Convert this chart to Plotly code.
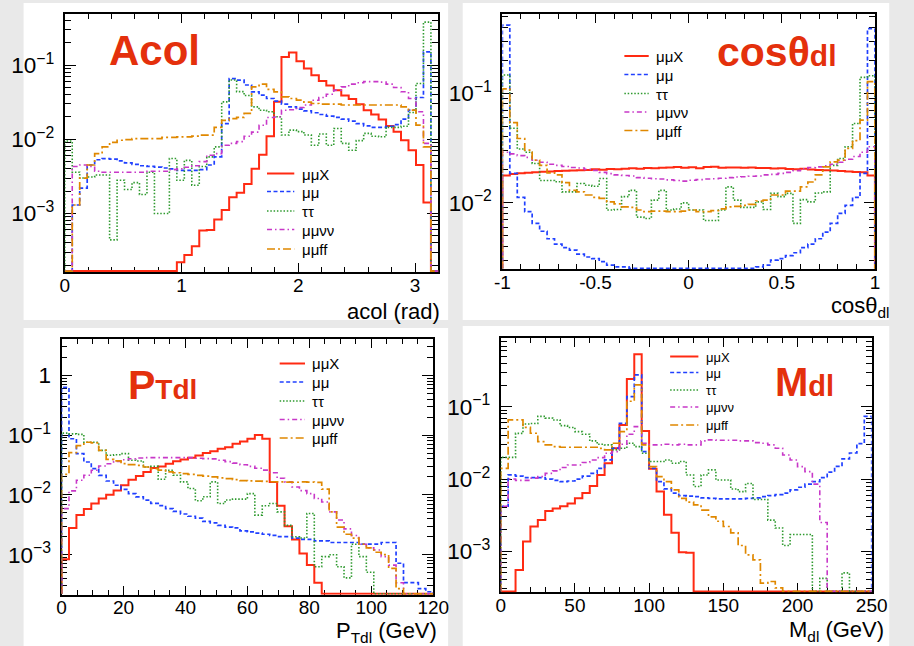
import numpy as np
import plotly.graph_objects as go

W, H = 914, 646

series_names = ["μμX", "μμ", "ττ", "μμνν", "μμff"]

# ---------------- Acol (50 bins, 0 .. 3.2 rad) ----------------
acol_mumuX = [0, 0, 0, 0, 0, 0, 0, 0, 0, 0, 0, 0, 0, 0, 0,
              2.2e-4, 2.76e-4, 3.6e-4, 5.9e-4, 6.0e-4, 8.3e-4, 1.11e-3, 1.65e-3, 1.9e-3, 2.5e-3,
              4.0e-3, 6.2e-3, 1.1e-2, 3.2e-2, 0.129, 0.148, 0.113, 0.090, 0.073, 0.061,
              0.053, 0.046, 0.039, 0.035, 0.0296, 0.0247, 0.0216, 0.0185, 0.0151, 0.0126,
              0.0097, 0.0071, 0.0045, 0.0014, 0]
acol_mumu = [0, 0.0013, 0.0022, 0.0045, 0.0053, 0.0055, 0.0054, 0.0051, 0.0048, 0.0046,
             0.0044, 0.0043, 0.0042, 0.0041, 0.0040, 0.0038, 0.0038, 0.0038, 0.0039, 0.0045,
             0.0058, 0.0163, 0.066, 0.063, 0.054, 0.0437, 0.0394, 0.0355, 0.0327, 0.0298,
             0.0274, 0.0255, 0.0242, 0.0228, 0.0216, 0.0205, 0.0197, 0.0187, 0.0176, 0.0163,
             0.0152, 0.0145, 0.0145, 0.0150, 0.0158, 0.0187, 0.0247, 0.0366, 0.151, 0]
acol_tautau = [0.0095, 0.0036, 0.0030, 0.0031, 0.0033, 0.0033, 0.00044, 0.0028, 0.0021, 0.0026,
               0.0018, 0.0036, 0.0010, 0.0010, 0.0055, 0.0028, 0.0052, 0.0024, 0.0043, 0.0058,
               0.0079, 0.032, 0.063, 0.044, 0.039, 0.0274, 0.0247, 0.0235, 0.0201, 0.0114,
               0.0133, 0.0127, 0.0114, 0.0083, 0.0118, 0.0083, 0.0140, 0.0088, 0.0071, 0.0096,
               0.0120, 0.0110, 0.0108, 0.0145, 0.0145, 0.0150, 0.023, 0.0566, 0.38, 0]
acol_mumununu = [0, 0.0043, 0.0045, 0.0043, 0.0037, 0.0036, 0.0036, 0.0036, 0.0036, 0.0036,
                 0.0036, 0.0037, 0.0037, 0.0037, 0.0039, 0.0040, 0.0042, 0.0044, 0.0050, 0.0061,
                 0.0064, 0.0083, 0.0088, 0.0093, 0.0110, 0.0125, 0.0155, 0.0197, 0.0200, 0.0247,
                 0.0250, 0.0268, 0.0290, 0.0337, 0.0366, 0.0406, 0.046, 0.051, 0.0555, 0.058,
                 0.060, 0.060, 0.059, 0.0555, 0.050, 0.0437, 0.0355, 0.0235, 0.0088, 0]
acol_mumuff = [0, 0.0013, 0.0030, 0.0045, 0.0064, 0.0079, 0.0091, 0.0097, 0.0099, 0.0102,
               0.0102, 0.0102, 0.0102, 0.0106, 0.0106, 0.0108, 0.0108, 0.0110, 0.0114, 0.0114,
               0.0145, 0.0180, 0.0190, 0.0197, 0.0223, 0.051, 0.0555, 0.047, 0.0437, 0.0374,
               0.0355, 0.0337, 0.0317, 0.0304, 0.0298, 0.0298, 0.0298, 0.029, 0.029, 0.029,
               0.029, 0.029, 0.029, 0.029, 0.029, 0.0274, 0.0247, 0.0155, 0.0079, 0]

# ---------------- cos(theta_dl) (50 bins, -1 .. 1) ----------------
cos_mumuX = [0.0178, 0.0183, 0.0186, 0.0188, 0.0190, 0.0192, 0.0193, 0.0195, 0.0196, 0.0197,
             0.0199, 0.0200, 0.0203, 0.0201, 0.0204, 0.0203, 0.0205, 0.0207, 0.0205, 0.0208,
             0.0207, 0.0209, 0.0210, 0.0212, 0.0209, 0.0211, 0.0207, 0.0212, 0.0214, 0.0209,
             0.0210, 0.0210, 0.0209, 0.0210, 0.0208, 0.0208, 0.0206, 0.0207, 0.0204, 0.0203,
             0.0205, 0.0202, 0.0200, 0.0199, 0.0197, 0.0195, 0.0193, 0.0191, 0.0190, 0.0178]
cos_mumu = [0.42, 0.0186, 0.0112, 0.0083, 0.0065, 0.0055, 0.0047, 0.0042, 0.0039, 0.0037,
            0.0034, 0.0032, 0.0031, 0.0029, 0.0027, 0.0026, 0.0026, 0.0024, 0.0024, 0.0024,
            0.0024, 0.0024, 0.0024, 0.0024, 0.0024, 0.0024, 0.0024, 0.0024, 0.0024, 0.0024,
            0.0024, 0.0024, 0.0024, 0.0024, 0.0026, 0.0027, 0.0030, 0.0031, 0.0033, 0.0035,
            0.0039, 0.0042, 0.0047, 0.0054, 0.0065, 0.0080, 0.0095, 0.0112, 0.0186, 0.39]
cos_tautau = [0.147, 0.048, 0.031, 0.029, 0.0229, 0.016, 0.016, 0.0156, 0.0126, 0.0126,
              0.0150, 0.0145, 0.0142, 0.0167, 0.0086, 0.0087, 0.0114, 0.0130, 0.0074, 0.0072,
              0.0106, 0.0130, 0.0086, 0.0088, 0.0100, 0.0086, 0.0086, 0.0069, 0.0069, 0.0086,
              0.0140, 0.0106, 0.0091, 0.0091, 0.0102, 0.0087, 0.0122, 0.0114, 0.0122, 0.0065,
              0.0107, 0.0102, 0.0123, 0.0126, 0.022, 0.0254, 0.0325, 0.053, 0.14, 0.145]
cos_mumununu = [0.029, 0.028, 0.027, 0.026, 0.0245, 0.0235, 0.0225, 0.022, 0.0215, 0.021,
                0.0208, 0.0202, 0.0198, 0.0190, 0.0185, 0.0180, 0.0178, 0.0176, 0.0170, 0.0168,
                0.0166, 0.0165, 0.0162, 0.0160, 0.0158, 0.0161, 0.0163, 0.0165, 0.0166, 0.0168,
                0.0170, 0.0172, 0.0173, 0.0175, 0.0176, 0.0180, 0.0182, 0.0186, 0.0190, 0.0197,
                0.0205, 0.0210, 0.0213, 0.0218, 0.0225, 0.0235, 0.0250, 0.0265, 0.0290, 0.0325]
cos_mumuff = [0.11, 0.054, 0.0387, 0.0303, 0.0246, 0.022, 0.0188, 0.018, 0.0153, 0.013,
              0.0126, 0.0118, 0.0112, 0.0110, 0.0102, 0.0098, 0.0092, 0.0091, 0.0086, 0.0083,
              0.0084, 0.0084, 0.0083, 0.0083, 0.0084, 0.0086, 0.0083, 0.0083, 0.0085, 0.0088,
              0.0092, 0.0093, 0.0095, 0.0097, 0.0104, 0.0106, 0.0118, 0.0118, 0.0128, 0.0128,
              0.0140, 0.0155, 0.0180, 0.0213, 0.0237, 0.0246, 0.0314, 0.037, 0.057, 0.128]

# ---------------- P_Tdl (50 bins, 0 .. 120 GeV) ----------------
pt_mumuX = [8.4e-4, 0.0028, 0.0046, 0.0058, 0.0072, 0.0087, 0.0101, 0.0119, 0.0145, 0.018,
            0.0207, 0.0242, 0.0282, 0.030, 0.0333, 0.0364, 0.0393, 0.0419, 0.0458, 0.0501,
            0.054, 0.059, 0.063, 0.0717, 0.0784, 0.087, 0.101, 0.087, 0.0165, 0.0066,
            0.0030, 0.0018, 0.00105, 6.7e-4, 3.4e-4, 0, 0, 0, 0, 0,
            0, 0, 0, 0, 0, 0, 0, 0, 0, 0]
pt_mumu = [0.63, 0.087, 0.049, 0.0355, 0.0275, 0.0213, 0.0171, 0.0145, 0.0124, 0.0105,
           0.0093, 0.0082, 0.0072, 0.0066, 0.0059, 0.0053, 0.0048, 0.0044, 0.0041, 0.0036,
           0.0034, 0.0031, 0.0029, 0.0028, 0.0025, 0.0024, 0.0023, 0.0022, 0.0021, 0.0020,
           0.0020, 0.0019, 0.0018, 0.0018, 0.0017, 0.0017, 0.0016, 0.0016, 0.0016, 0.0016,
           0.0015, 0.0015, 0.0015, 0.0016, 0.0016, 7.2e-4, 3.4e-4, 3.4e-4, 2.7e-4, 2.4e-4]
pt_tautau = [0.108, 0.105, 0.103, 0.076, 0.076, 0.0555, 0.046, 0.047, 0.049, 0.0379,
             0.037, 0.0293, 0.030, 0.0183, 0.0258, 0.0213, 0.0165, 0.0128, 0.008, 0.0093,
             0.0165, 0.0072, 0.0082, 0.0085, 0.0085, 0.0105, 0.0046, 0.0066, 0.0072, 0.0052,
             0.0031, 0.0020, 0.0019, 0.0049, 6.3e-4, 9.3e-4, 0.0010, 6.3e-4, 4.1e-4, 0.0015,
             9.3e-4, 5.1e-4, 0, 0, 0, 0, 0, 0, 0, 0]
pt_mumununu = [0.0059, 0.0117, 0.0176, 0.0213, 0.0258, 0.0304, 0.0333, 0.0364, 0.0388, 0.0403,
               0.0414, 0.042, 0.042, 0.042, 0.042, 0.042, 0.042, 0.042, 0.041, 0.0405,
               0.040, 0.038, 0.036, 0.034, 0.032, 0.030, 0.028, 0.026, 0.0235, 0.019,
               0.0165, 0.0136, 0.0118, 0.0105, 0.0087, 0.0076, 0.0052, 0.0038, 0.0027, 0.0021,
               0.0015, 0.0013, 0.0012, 9.3e-4, 6.7e-4, 3.4e-4, 0, 0, 0, 0]
pt_mumuff = [0.022, 0.051, 0.067, 0.076, 0.074, 0.0555, 0.0393, 0.037, 0.0333, 0.032,
             0.0312, 0.0293, 0.0275, 0.026, 0.0242, 0.0235, 0.0227, 0.022, 0.0213, 0.0207,
             0.020, 0.0193, 0.0187, 0.018, 0.0173, 0.0172, 0.017, 0.0168, 0.0166, 0.0165,
             0.0164, 0.0163, 0.0165, 0.0164, 0.0162, 0.0125, 0.0052, 0.0029, 0.0022, 0.0019,
             0.0015, 0.0013, 0.0011, 0.0010, 5.9e-4, 2.7e-4, 0, 0, 0, 0]

# ---------------- M_dl (50 bins, 0 .. 250 GeV) ----------------
mdl_mumuX = [0, 0, 5.5e-4, 0.00136, 0.0022, 0.0027, 0.0036, 0.0039, 0.0042, 0.0046,
             0.0054, 0.0064, 0.0080, 0.0114, 0.0166, 0.0267, 0.0563, 0.244, 0.54, 0.0465,
             0.0139, 0.0067, 0.0032, 0.0018, 0.00097, 0.00095, 0, 0, 0, 0,
             0, 0, 0, 0, 0, 0, 0, 0, 0, 0,
             0, 0, 0, 0, 0, 0, 0, 0, 0, 0]
mdl_mumu = [0.0042, 0.0114, 0.0110, 0.0105, 0.0105, 0.0105, 0.0100, 0.0096, 0.0092, 0.0094,
            0.0100, 0.0110, 0.0120, 0.0141, 0.0184, 0.0268, 0.059, 0.139, 0.278, 0.024,
            0.0141, 0.0092, 0.0073, 0.0064, 0.0059, 0.0058, 0.0057, 0.0055, 0.0054, 0.0053,
            0.0053, 0.0053, 0.0053, 0.0054, 0.0055, 0.0057, 0.0059, 0.0061, 0.0064, 0.0071,
            0.0077, 0.0085, 0.0092, 0.0105, 0.0125, 0.0150, 0.0190, 0.0230, 0.0310, 0.074]
mdl_tautau = [0.020, 0.020, 0.043, 0.058, 0.059, 0.074, 0.070, 0.066, 0.055, 0.052,
              0.0455, 0.0418, 0.0338, 0.0304, 0.0298, 0.0254, 0.0267, 0.0314, 0.0282, 0.0228,
              0.0175, 0.0175, 0.0184, 0.0166, 0.0175, 0.0114, 0.0079, 0.0114, 0.0134, 0.0097,
              0.0097, 0.0073, 0.0067, 0.0087, 0.0052, 0.0052, 0.0027, 0.0021, 0.0012, 0.0017,
              0.0017, 0.0017, 0, 4.2e-4, 0, 0, 5.0e-4, 0, 0, 0]
mdl_mumununu = [0.0042, 0.0100, 0.0096, 0.0096, 0.0103, 0.0108, 0.0120, 0.0130, 0.0145, 0.0157,
                0.0157, 0.0170, 0.0184, 0.0198, 0.0228, 0.0240, 0.0304, 0.0418, 0.0534, 0.0314,
                0.0298, 0.0298, 0.0304, 0.0298, 0.0304, 0.0298, 0.0298, 0.0338, 0.0349, 0.0345,
                0.0345, 0.0345, 0.0338, 0.0338, 0.0320, 0.0314, 0.0298, 0.0268, 0.0216, 0.0184,
                0.0149, 0.0127, 0.0085, 0.0025, 0, 0, 0, 0, 0, 0]
mdl_mumuff = [0.0141, 0.066, 0.066, 0.052, 0.0432, 0.033, 0.0298, 0.0282, 0.0276, 0.0276,
              0.0276, 0.0276, 0.0276, 0.0267, 0.0254, 0.0314, 0.0455, 0.12, 0.202, 0.0298,
              0.0149, 0.0108, 0.0092, 0.0071, 0.0054, 0.0048, 0.0044, 0.0037, 0.0030, 0.0026,
              0.0022, 0.0018, 0.0012, 8.9e-4, 7.6e-4, 3.6e-4, 3.8e-4, 3.1e-4, 0, 0,
              0, 0, 0, 0, 0, 0, 0, 0, 0, 0]

# ---------------- tick labels ----------------
acol_ticks = [0, 1, 2, 3]
cos_ticks = [-1, -0.5, 0, 0.5, 1]
cos_ticktext = ["-1", "-0.5", "0", "0.5", "1"]
pt_ticks = [0, 20, 40, 60, 80, 100, 120]
mdl_ticks = [0, 50, 100, 150, 200, 250]

# ---------------- styling ----------------
FONT = "Liberation Sans, Arial, Helvetica, sans-serif"
TITLE_RED = "#e4300c"
styles = [
    dict(color="#ff2a12", width=2.0, dash="solid"),
    dict(color="#2040ff", width=1.7, dash="4px,2.5px"),
    dict(color="#2f9a2f", width=1.6, dash="1.5px,1.8px"),
    dict(color="#c838c8", width=1.6, dash="5px,3px,1.5px,3px"),
    dict(color="#e08800", width=1.7, dash="8px,3px,2px,3px"),
]


def px(x):
    return x / W


def py(y):
    return 1 - y / H


panels = [
    dict(data=[acol_mumuX, acol_mumu, acol_tautau, acol_mumununu, acol_mumuff],
         xlim=(0, 3.2), ylog=(-3.79, -0.31), box=(58.3, 442.0, 14.0, 272.0),
         ticks=acol_ticks, ticktext=None, minor=0.2,
         leg=dict(s=(266, 294), t=300, rows=[173.5, 191.5, 211, 229.5, 249], size=15)),
    dict(data=[cos_mumuX, cos_mumu, cos_tautau, cos_mumununu, cos_mumuff],
         xlim=(-1, 1), ylog=(-2.607, -0.275), box=(507.7, 890.3, 14.0, 269.3),
         ticks=cos_ticks, ticktext=cos_ticktext, minor=0.1,
         leg=dict(s=(633, 658), t=663, rows=[56, 74.5, 93.5, 112, 130.5], size=15)),
    dict(data=[pt_mumuX, pt_mumu, pt_tautau, pt_mumununu, pt_mumuff],
         xlim=(0, 120), ylog=(-3.669, 0.613), box=(55.0, 436.7, 338.7, 594.7),
         ticks=pt_ticks, ticktext=None, minor=5,
         leg=dict(s=(279, 305), t=310, rows=[363.5, 382, 401, 419.5, 438], size=15)),
    dict(data=[mdl_mumuX, mdl_mumu, mdl_tautau, mdl_mumununu, mdl_mumuff],
         xlim=(0, 250), ylog=(-3.57, -0.044), box=(506.0, 887.0, 338.0, 592.3),
         ticks=mdl_ticks, ticktext=None, minor=10,
         leg=dict(s=(680, 709), t=714.5, rows=[356.5, 372.5, 390, 407, 425], size=13)),
]

fig = go.Figure()
layout = dict(width=W, height=H, margin=dict(l=0, r=0, t=0, b=0),
              paper_bgcolor="#e9e9e9", plot_bgcolor="white", showlegend=False)

shapes = []
ann = []

# white panel backgrounds
for (a, b, c, d) in [(16, 452, 3, 320), (467, 905, 3, 320), (16, 452, 328, 646), (467, 905, 326, 646)]:
    shapes.append(dict(type="rect", xref="paper", yref="paper", x0=px(a), x1=px(b),
                       y0=py(d), y1=py(c), fillcolor="white", line=dict(width=0), layer="below"))

for i, p in enumerate(panels, start=1):
    sfx = "" if i == 1 else str(i)
    x0, x1, y0, y1 = p["box"]
    lo, hi = p["ylog"]
    px_per_dec = (y1 - y0) / (hi - lo)
    floor = 10 ** (lo + 0.9 / px_per_dec)
    edges = np.linspace(p["xlim"][0], p["xlim"][1], 51)
    xs = np.concatenate([[edges[0]], edges[:-1], [edges[-1]]])
    for name, vals, st in zip(series_names, p["data"], styles):
        v = np.maximum(np.asarray(vals, dtype=float), floor)
        ys = np.concatenate([[floor], v, [floor]])
        fig.add_trace(go.Scatter(
            x=xs, y=ys, mode="lines", line_shape="hv", name=name,
            line=dict(color=st["color"], width=st["width"], dash=st["dash"]),
            xaxis="x" + sfx, yaxis="y" + sfx, hoverinfo="skip"))

    xa = dict(domain=[px(x0), px(x1)], range=list(p["xlim"]), anchor="y" + sfx,
              showline=True, linecolor="black", linewidth=1.8, mirror="allticks",
              ticks="inside", ticklen=9, tickwidth=1.2, tickcolor="black",
              tickvals=p["ticks"], ticktext=p["ticktext"] if p["ticktext"] else [str(t) for t in p["ticks"]],
              minor=dict(ticks="inside", ticklen=5, tickwidth=1, tickcolor="black", dtick=p["minor"], tick0=0),
              showgrid=False, zeroline=False, layer="below traces",
              tickfont=dict(family=FONT, size=19, color="black"), ticklabelstandoff=-5)
    ya = dict(domain=[py(y1), py(y0)], type="log", range=[lo, hi], anchor="x" + sfx,
              showline=True, linecolor="black", linewidth=1.8, mirror="allticks",
              ticks="inside", ticklen=11, tickwidth=1.2, tickcolor="black",
              dtick=1, exponentformat="power", showexponent="all",
              minor=dict(ticks="inside", ticklen=6, tickwidth=1, tickcolor="black", dtick="D1"),
              showgrid=False, zeroline=False, layer="below traces",
              tickfont=dict(family=FONT, size=18, color="black"), ticklabelstandoff=5)
    layout["xaxis" + sfx] = xa
    layout["yaxis" + sfx] = ya

    # legend drawn as line samples + text labels
    lg = p["leg"]
    for name, st, ry in zip(series_names, styles, lg["rows"]):
        shapes.append(dict(type="line", xref="paper", yref="paper",
                           x0=px(lg["s"][0]), x1=px(lg["s"][1]), y0=py(ry), y1=py(ry),
                           line=dict(color=st["color"], width=st["width"], dash=st["dash"])))
        ann.append(dict(text=name, x=px(lg["t"]), y=py(ry + 0.5), xref="paper", yref="paper",
                        xanchor="left", yanchor="middle", showarrow=False,
                        font=dict(family=FONT, size=lg["size"], color="black")))

layout["shapes"] = shapes

# big red titles
big = [
    ("<b>Acol</b>", 150, 50, 42),
    ("<b>cosθ<span style='font-size:30px'>dl</span></b>", 789, 52, 41),
    ("<b>P<span style='font-size:28px'>Tdl</span></b>", 159, 385, 41),
    ("<b>M<span style='font-size:29px'>dl</span></b>", 818, 382, 40),
]
for t, cx, cy, fs in big:
    ann.append(dict(text=t, x=px(cx), y=py(cy), xref="paper", yref="paper", xanchor="center",
                    yanchor="middle", showarrow=False, font=dict(family=FONT, size=fs, color=TITLE_RED)))

# axis titles (ROOT style, at the right end of the x axis)
axis_titles = [
    ("acol (rad)", 346, 297),
    ("cosθ<sub>dl</sub>", 843, 291),
    ("P<sub>Tdl</sub> (GeV)", 335, 616),
    ("M<sub>dl</sub> (GeV)", 800, 615),
]
for t, xl, yt in axis_titles:
    ann.append(dict(text=t, x=px(xl), y=py(yt), xref="paper", yref="paper", xanchor="left",
                    yanchor="top", showarrow=False, font=dict(family=FONT, size=22, color="black")))
layout["annotations"] = ann

fig.update_layout(**layout)
fig.write_html("out.html")
